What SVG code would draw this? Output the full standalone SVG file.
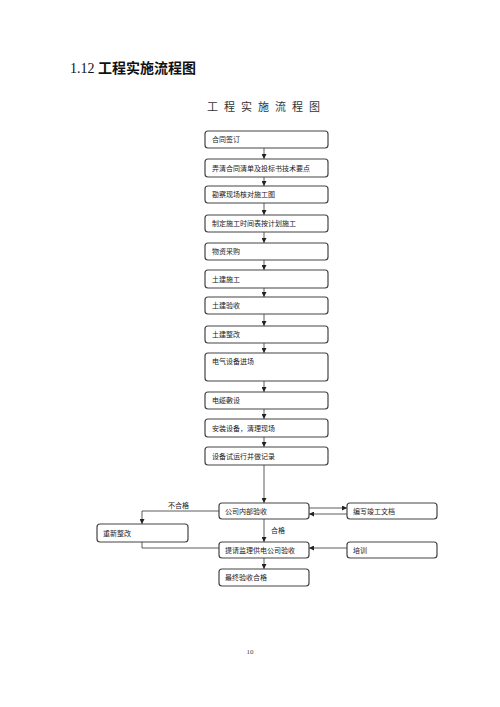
<svg xmlns="http://www.w3.org/2000/svg" width="500" height="707" viewBox="0 0 500 707">
<style>
.box{fill:#fff;stroke:#444;stroke-width:1.2}
.lbl{font-family:"Noto Sans CJK SC","Liberation Serif",serif;font-size:7px;fill:#222}
.ln{fill:none;stroke:#333;stroke-width:0.8}
</style>
<defs>
<marker id="ah" viewBox="0 0 6 6" refX="6" refY="3" markerWidth="5" markerHeight="5" orient="auto" markerUnits="userSpaceOnUse">
<path d="M0,0 L6,3 L0,6 Z" fill="#222"/>
</marker>
</defs>
<rect width="500" height="707" fill="#fff"/>
<text x="70" y="73" font-family="Liberation Serif,'Noto Sans CJK SC',serif" font-size="14" fill="#111"><tspan>1.12 </tspan><tspan font-family="'Noto Sans CJK SC',sans-serif" font-weight="bold">工程实施流程图</tspan></text>
<text x="207" y="111" font-family="'Noto Sans CJK SC',serif" font-size="11" fill="#333" letter-spacing="6">工程实施流程图</text>

<g id="connectors">
<line class="ln" x1="264" y1="148" x2="264" y2="159" marker-end="url(#ah)"/>
<line class="ln" x1="264" y1="177" x2="264" y2="186" marker-end="url(#ah)"/>
<line class="ln" x1="264" y1="203" x2="264" y2="215" marker-end="url(#ah)"/>
<line class="ln" x1="264" y1="232" x2="264" y2="243" marker-end="url(#ah)"/>
<line class="ln" x1="264" y1="260" x2="264" y2="270" marker-end="url(#ah)"/>
<line class="ln" x1="264" y1="288" x2="264" y2="297" marker-end="url(#ah)"/>
<line class="ln" x1="264" y1="314" x2="264" y2="326" marker-end="url(#ah)"/>
<line class="ln" x1="264" y1="343" x2="264" y2="353" marker-end="url(#ah)"/>
<line class="ln" x1="264" y1="381" x2="264" y2="392" marker-end="url(#ah)"/>
<line class="ln" x1="264" y1="409" x2="264" y2="419" marker-end="url(#ah)"/>
<line class="ln" x1="264" y1="437" x2="264" y2="447" marker-end="url(#ah)"/>
<line class="ln" x1="264" y1="465" x2="264" y2="503" marker-end="url(#ah)"/>
<polyline class="ln" points="219,511 142,511 142,524" marker-end="url(#ah)"/>
<polyline class="ln" points="142,542 142,548 219,548"/>
<line class="ln" x1="264" y1="519" x2="264" y2="542" marker-end="url(#ah)"/>
<line class="ln" x1="264" y1="558" x2="264" y2="569" marker-end="url(#ah)"/>
<line class="ln" x1="309" y1="508" x2="347" y2="508" marker-end="url(#ah)"/>
<line class="ln" x1="347" y1="514" x2="309" y2="514" marker-end="url(#ah)"/>
<line class="ln" x1="347" y1="548" x2="309" y2="548" marker-end="url(#ah)"/>
<text class="lbl" x="168" y="508">不合格</text>
<text class="lbl" x="271" y="533">合格</text>
</g>

<g id="n1"><rect class="box" x="205" y="131" width="123" height="17" rx="3"/><text class="lbl" x="212" y="142">合同签订</text></g>
<g id="n2"><rect class="box" x="205" y="159" width="123" height="18" rx="3"/><text class="lbl" x="212" y="171">弄清合同清单及投标书技术要点</text></g>
<g id="n3"><rect class="box" x="205" y="186" width="123" height="17" rx="3"/><text class="lbl" x="212" y="197">勘察现场核对施工图</text></g>
<g id="n4"><rect class="box" x="205" y="215" width="123" height="17" rx="3"/><text class="lbl" x="212" y="226">制定施工时间表按计划施工</text></g>
<g id="n5"><rect class="box" x="205" y="243" width="123" height="17" rx="3"/><text class="lbl" x="212" y="254">物资采购</text></g>
<g id="n6"><rect class="box" x="205" y="270" width="123" height="18" rx="3"/><text class="lbl" x="212" y="282">土建施工</text></g>
<g id="n7"><rect class="box" x="205" y="297" width="123" height="17" rx="3"/><text class="lbl" x="212" y="308">土建验收</text></g>
<g id="n8"><rect class="box" x="205" y="326" width="123" height="17" rx="3"/><text class="lbl" x="212" y="337">土建整改</text></g>
<g id="n9"><rect class="box" x="205" y="353" width="123" height="28" rx="3"/><text class="lbl" x="212" y="364">电气设备进场</text></g>
<g id="n10"><rect class="box" x="205" y="392" width="123" height="17" rx="3"/><text class="lbl" x="212" y="403">电缆敷设</text></g>
<g id="n11"><rect class="box" x="205" y="419" width="123" height="18" rx="3"/><text class="lbl" x="212" y="431">安装设备，清理现场</text></g>
<g id="n12"><rect class="box" x="205" y="447" width="123" height="18" rx="3"/><text class="lbl" x="212" y="459">设备试运行并做记录</text></g>
<g id="n13"><rect class="box" x="219" y="503" width="90" height="16" rx="3"/><text class="lbl" x="225" y="514">公司内部验收</text></g>
<g id="n14"><rect class="box" x="97" y="524" width="91" height="18" rx="3"/><text class="lbl" x="103" y="536">重新整改</text></g>
<g id="n15"><rect class="box" x="219" y="542" width="90" height="16" rx="3"/><text class="lbl" x="225" y="553">提请监理供电公司验收</text></g>
<g id="n16"><rect class="box" x="219" y="569" width="90" height="17" rx="3"/><text class="lbl" x="225" y="580">最终验收合格</text></g>
<g id="n17"><rect class="box" x="347" y="503" width="90" height="16" rx="3"/><text class="lbl" x="353" y="514">编写竣工文档</text></g>
<g id="n18"><rect class="box" x="347" y="542" width="90" height="16" rx="3"/><text class="lbl" x="353" y="553">培训</text></g>

<text x="250" y="654" font-family="'Liberation Serif',serif" font-size="7" fill="#444" text-anchor="middle">10</text>
</svg>
